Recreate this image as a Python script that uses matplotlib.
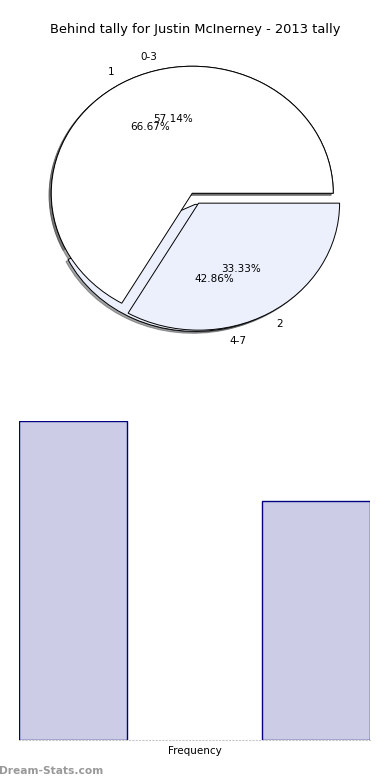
import matplotlib
matplotlib.use("Agg")
import matplotlib.pyplot as plt

plt.rcParams["font.family"] = "DejaVu Sans"

TITLE = "Behind tally for Justin McInerney - 2013 tally"

# pie 1: behind tally bands
band_labels = ["0-3", "4-7"]
band_counts = [4, 3]

# pie 2: behind tally values
tally_labels = ["1", "2"]
tally_counts = [2, 1]

# bar chart
bar_values = [4, 3]

PIE_COLORS = ["#ffffff", "#ebf0fc"]
BAR_FACE = "#cccce6"
BAR_EDGE = "#000080"

fig = plt.figure(figsize=(3.9, 7.8), dpi=100)

# ---- pies (drawn on top of each other, no equal aspect) --------------------
ax = fig.add_axes([16 / 390, 1 - 352 / 780, 352.5 / 390, 317.5 / 780])
for labels, counts in ((band_labels, band_counts), (tally_labels, tally_counts)):
    ax.pie(counts, labels=labels, colors=PIE_COLORS, explode=[0, 0.09],
           autopct="%.2f%%", shadow=dict(ox=-0.011, oy=-0.011), startangle=0,
           wedgeprops=dict(edgecolor="black", linewidth=0.7),
           textprops=dict(fontsize=7.5))
ax.set_aspect("auto")
ax.set_xlim(-1.25, 1.25)
ax.set_ylim(-1.25, 1.25)
fig.text(0.5, 1 - 30 / 780, TITLE, ha="center", va="center", fontsize=9.4)

# ---- bars ------------------------------------------------------------------
bx = fig.add_axes([19 / 390, 1 - 740 / 780, 351 / 390, 319 / 780])
w = 0.444
bx.bar(range(len(bar_values)), bar_values, width=w, color=BAR_FACE,
       edgecolor=BAR_EDGE, linewidth=1.0)
bx.set_xlim(-w / 2, len(bar_values) - 1 + w / 2)
bx.set_ylim(0, max(bar_values))
for s in ("top", "right", "left"):
    bx.spines[s].set_visible(False)
bx.spines["bottom"].set_color("#c8c8c8")
bx.spines["bottom"].set_linestyle((0, (1, 2)))
bx.spines["bottom"].set_linewidth(0.8)
bx.set_xticks([])
bx.set_yticks([])
bx.set_xlabel("Frequency", fontsize=7.5, labelpad=4)

fig.text(-0.003, 1 - 771 / 780, "Dream-Stats.com", ha="left", va="center",
         fontsize=7.7, color="#999999", fontweight="bold")

fig.savefig("out.png", dpi=100)
